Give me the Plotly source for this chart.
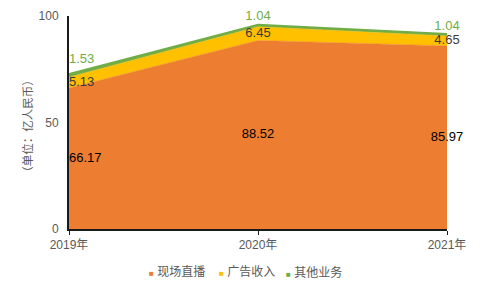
import plotly.graph_objects as go

years = ["2019年", "2020年", "2021年"]
live = [66.17, 88.52, 85.97]
ads = [5.13, 6.45, 4.65]
other = [1.53, 1.04, 1.04]
names = ["现场直播", "广告收入", "其他业务"]
colors = ["#ED7D31", "#FFC000", "#70AD47"]
label_colors = ["#000000", "#3a3a3a", "#70AD47"]

FONT = "Liberation Sans, Arial, Noto Sans CJK SC"

fig = go.Figure()
xs = [0, 1, 2]
cum0 = [0, 0, 0]
series = [live, ads, other]
for i, s in enumerate(series):
    top = [c + v for c, v in zip(cum0, s)]
    fig.add_trace(go.Scatter(
        x=xs, y=top, mode="lines",
        line=dict(color=colors[i], width=1.5 if i == 2 else 0.5),
        fill="tozeroy" if i == 0 else "tonexty",
        fillcolor=colors[i], showlegend=False, hoverinfo="skip"))
    cum0 = top

# data labels
cum0 = [0, 0, 0]
positions = ["middle right", "middle center", "middle center"]
top_offsets = [6.5, 3.5, 3.5]
for i, s in enumerate(series):
    if i < 2:
        ys = [c + v / 2 for c, v in zip(cum0, s)]
    else:
        ys = [c + v + o for c, v, o in zip(cum0, s, top_offsets)]
    fig.add_trace(go.Scatter(
        x=xs, y=ys, mode="text", text=[f"{v:.2f}" for v in s],
        textposition=positions,
        textfont=dict(family=FONT, size=13, color=label_colors[i]),
        showlegend=False, hoverinfo="skip", cliponaxis=False))
    cum0 = [c + v for c, v in zip(cum0, s)]

legend_x = [0.2063, 0.3915, 0.5688]
legend_anns = [
    dict(text=f"<span style='color:{c};font-size:8px'>■</span> {n}", xref="paper", yref="paper",
         x=lx, y=-0.202, xanchor="left", yanchor="middle", showarrow=False,
         font=dict(size=12, color="#595959"))
    for n, c, lx in zip(names, colors, legend_x)
]

fig.update_layout(
    width=481, height=289,
    margin=dict(l=69, r=34, t=16, b=60, autoexpand=False),
    paper_bgcolor="white", plot_bgcolor="white",
    font=dict(family=FONT, size=12, color="#595959"),
    showlegend=False,
    xaxis=dict(range=[0, 2], tickmode="array", tickvals=xs, ticktext=years,
               showgrid=False, zeroline=False, showline=True, linecolor="#1a1a1a",
               linewidth=2, ticks="outside", ticklen=4, tickcolor="#1a1a1a",
               tickfont=dict(size=12, color="#595959")),
    yaxis=dict(range=[0, 100], tickvals=[0, 50, 100], showgrid=False,
               zeroline=False, showline=True, linecolor="#1a1a1a", linewidth=2,
               ticks="", ticklabelstandoff=6, tickfont=dict(size=12, color="#595959")),
    annotations=[
        dict(text="（单位：亿人民币）", textangle=-90, xref="paper", yref="paper",
             x=-0.108, y=0.485, xanchor="center", yanchor="middle", showarrow=False,
             font=dict(size=11.5, color="#595959")),
    ] + legend_anns,
)

fig.write_html("out.html")
